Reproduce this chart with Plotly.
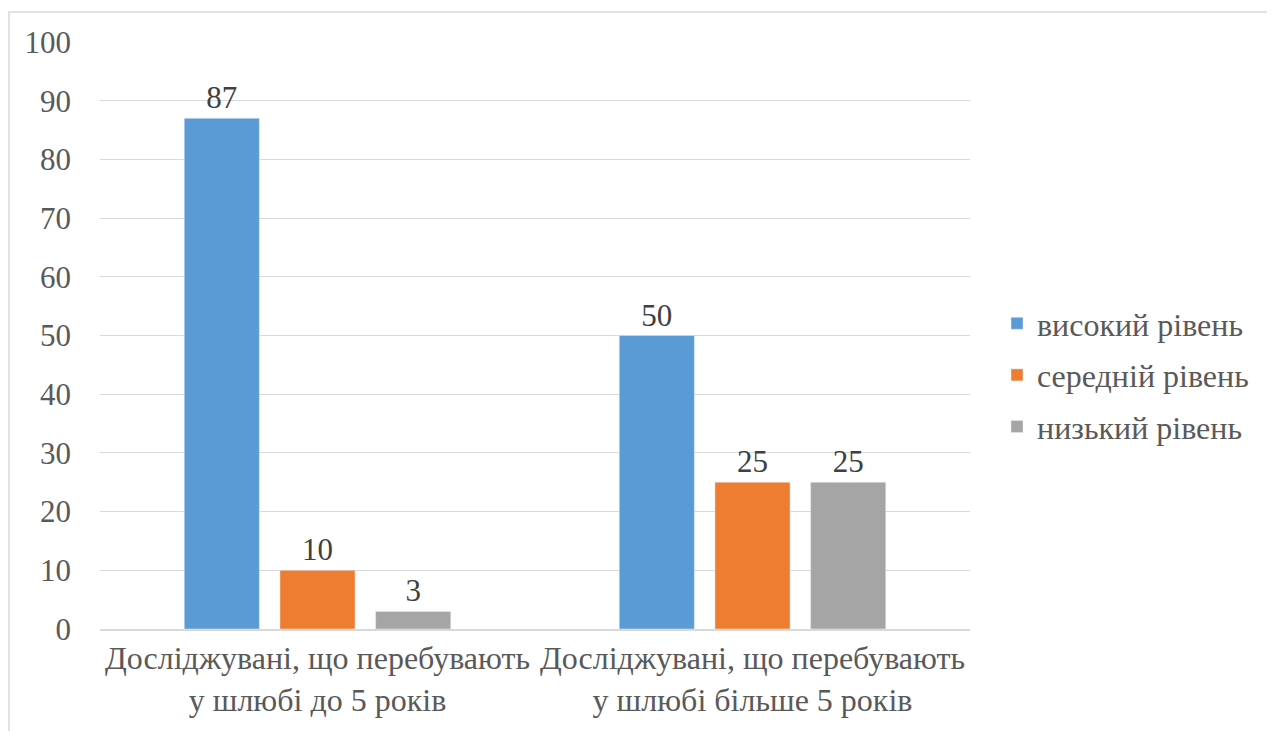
import plotly.graph_objects as go

categories = ["Досліджувані, що перебувають<br>у шлюбі до 5 років",
              "Досліджувані, що перебувають<br>у шлюбі більше 5 років"]
series_names = ["високий рівень", "середній рівень", "низький рівень"]
values = [
    [87, 50],
    [10, 25],
    [3, 25],
]
colors = ["#5B9BD5", "#ED7D31", "#A5A5A5"]
y_ticks = [0, 10, 20, 30, 40, 50, 60, 70, 80, 90, 100]

FONT = "Liberation Serif"
FS = 31
FS_BIG = 32
W, H = 1267, 723
L, R, T, B = 92, 305, 34, 102
pw, ph = W - L - R, H - T - B

fig = go.Figure()
for name, vals, col in zip(series_names, values, colors):
    fig.add_trace(go.Bar(
        x=categories, y=vals, name=name, marker_color=col,
        legendgroup=name,
        text=[str(v) for v in vals], textposition="outside",
        textfont=dict(family=FONT, size=FS, color="#404040"),
        cliponaxis=False,
    ))

fig.update_layout(
    width=W, height=H,
    margin=dict(l=L, r=R, t=T, b=B),
    paper_bgcolor="white", plot_bgcolor="white",
    barmode="group", bargap=0.34, bargroupgap=0.215,
    font=dict(family=FONT, size=FS, color="#595959"),
    showlegend=True,
    legend=dict(x=897 / pw, y=(621 - 367) / ph, xanchor="left", yanchor="middle",
                font=dict(family=FONT, size=FS_BIG, color="#595959"),
                itemwidth=30, tracegroupgap=7),
    shapes=[dict(type="rect", xref="paper", yref="paper",
                 x0=(1 - L) / pw, x1=1.5, y0=-0.5, y1=(H - B - 4) / ph,
                 line=dict(color="#D9D9D9", width=1.5), fillcolor="rgba(0,0,0,0)",
                 layer="below")],
)
fig.update_yaxes(range=[0, 100], tickvals=y_ticks, showgrid=True,
                 gridcolor="#D9D9D9", gridwidth=1.3, zeroline=False,
                 showline=False, ticks="", ticklabelstandoff=28,
                 tickfont=dict(family=FONT, size=FS, color="#595959"))
fig.update_xaxes(showline=True, linecolor="#D9D9D9", linewidth=1.5,
                 ticks="", tickfont=dict(family=FONT, size=FS_BIG, color="#595959"))

fig.write_html("out.html")
